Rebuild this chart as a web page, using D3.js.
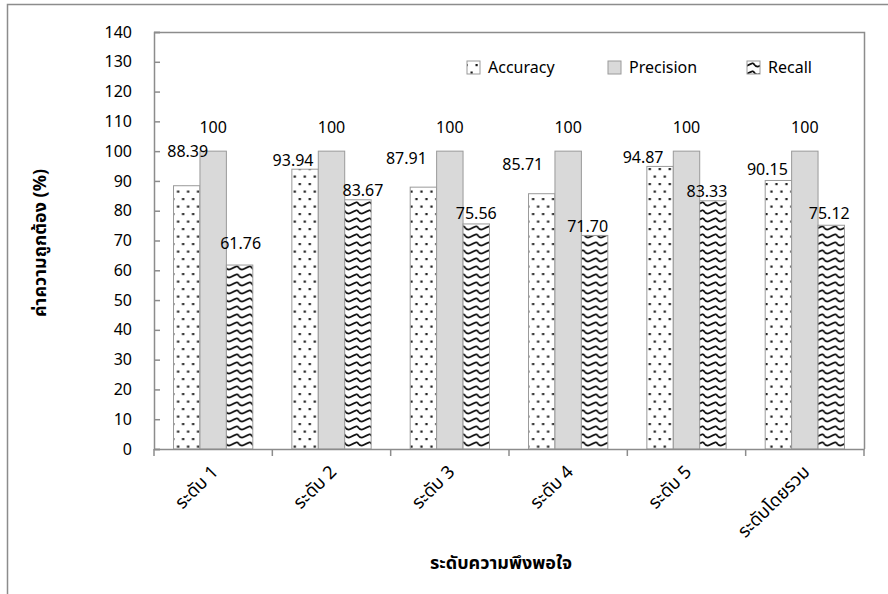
<!DOCTYPE html>
<html>
<head>
<meta charset="utf-8">
<script src="https://cdn.jsdelivr.net/npm/d3@7"></script>
<style>
  html, body { margin: 0; padding: 0; background: #fff; }
  svg { display: block; }
  text { font-family: "Noto Sans", "Noto Sans Thai", sans-serif; fill: #000; }
</style>
</head>
<body>
<svg id="chart" width="888" height="594"></svg>
<script>
// ---- data ----
const categories = ["ระดับ 1", "ระดับ 2", "ระดับ 3", "ระดับ 4", "ระดับ 5", "ระดับโดยรวม"];
const seriesNames = ["Accuracy", "Precision", "Recall"];
const accuracy = [88.39, 93.94, 87.91, 85.71, 94.87, 90.15];
const precision = [100, 100, 100, 100, 100, 100];
const recall = [61.76, 83.67, 75.56, 71.70, 83.33, 75.12];
const yTicks = [0, 10, 20, 30, 40, 50, 60, 70, 80, 90, 100, 110, 120, 130, 140];
const yTitle = "ค่าความถูกต้อง (%)";
const xTitle = "ระดับความพึงพอใจ";

// ---- layout (label nudges, px: [dx, dy] relative to bar centre / bar top) ----
const labelNudge = {
  Accuracy: [[1, -34], [-12, -9], [-17, -29], [-19, -29], [-17, -9], [-11, -11]],
  Precision: [[0, -24], [0, -24], [0, -24], [0, -24], [0, -24], [0, -24]],
  Recall: [[1, -22], [5, -9], [0, -11], [-7, -9], [-6, -9], [-2, -12]]
};

const svg = d3.select("#chart");
const W = 888, H = 594;
const m = { left: 154, right: 864, top: 32, bottom: 449 };
const axisColor = "#8c8c8c";
const fontSize = 16, thaiSize = 18;

// outer frame
svg.append("path").attr("d", `M7.5,${H}V4.5H${W}`).attr("fill", "none").attr("stroke", "#8c8c8c").attr("stroke-width", 1.5);

// scales
const x0 = d3.scaleBand().domain(categories).range([m.left, m.right]).paddingInner(0).paddingOuter(0);
const bw = x0.bandwidth();
const x1 = d3.scaleBand().domain(seriesNames).range([bw * 0.165, bw * 0.835]).padding(0);
const y = d3.scaleLinear().domain([0, 140]).range([m.bottom, m.top]);

// patterns (one origin per bar so the texture lines up inside each bar)
const defs = svg.append("defs");
function dotPattern(id, ox) {
  const p = defs.append("pattern").attr("id", id).attr("patternUnits", "userSpaceOnUse")
    .attr("width", 10).attr("height", 15).attr("x", ox).attr("y", 0);
  p.append("rect").attr("width", 10).attr("height", 15).attr("fill", "#fff");
  [[2.5, 4], [7.5, 11.5]].forEach(([cx, cy]) =>
    p.append("rect").attr("x", cx - 1).attr("y", cy - 1).attr("width", 2.2).attr("height", 2.2).attr("fill", "#1a1a1a"));
}
function wavePattern(id, ox) {
  const p = defs.append("pattern").attr("id", id).attr("patternUnits", "userSpaceOnUse")
    .attr("width", 13).attr("height", 8).attr("x", ox).attr("y", 0);
  p.append("rect").attr("width", 13).attr("height", 8).attr("fill", "#fff");
  p.append("path").attr("d", "M0,2 Q3,7 6.5,5 Q10,3 13,2").attr("fill", "none").attr("stroke", "#111").attr("stroke-width", 1.7);
}
categories.forEach((c, i) => {
  dotPattern("pDots" + i, x0(c) + x1("Accuracy") + 3);
  wavePattern("pWave" + i, x0(c) + x1("Recall"));
});
dotPattern("pDotsL", 467);
wavePattern("pWaveL", 747);

const fillFor = (s, i) => s === "Accuracy" ? `url(#pDots${i})` : s === "Recall" ? `url(#pWave${i})` : "#d9d9d9";
const values = { Accuracy: accuracy, Precision: precision, Recall: recall };

// plot border (top and right)
svg.append("path").attr("d", `M${m.left},${m.top + 0.5}H${m.right + 0.5}V${m.bottom}`)
  .attr("fill", "none").attr("stroke", axisColor).attr("stroke-width", 1.5);

// bars
const groups = svg.append("g").selectAll("g").data(categories).join("g")
  .attr("transform", d => `translate(${x0(d)},0)`);
groups.each(function (cat, i) {
  const g = d3.select(this);
  seriesNames.forEach(s => {
    const v = values[s][i];
    g.append("rect")
      .attr("x", x1(s)).attr("y", y(v))
      .attr("width", x1.bandwidth()).attr("height", y(0) - y(v))
      .attr("fill", fillFor(s, i)).attr("stroke", "#9a9a9a").attr("stroke-width", 1);
  });
});

// value labels
groups.each(function (cat, i) {
  const g = d3.select(this);
  seriesNames.forEach(s => {
    const v = values[s][i];
    const [dx, dy] = labelNudge[s][i];
    g.append("text")
      .attr("x", x1(s) + x1.bandwidth() / 2 + dx)
      .attr("y", y(v) + dy)
      .attr("dy", "0.35em")
      .attr("text-anchor", "middle")
      .attr("font-size", fontSize)
      .text(v === 100 ? "100" : v.toFixed(2));
  });
});

// y axis
const yAxis = svg.append("g").attr("transform", `translate(${m.left},0)`)
  .call(d3.axisLeft(y).tickValues(yTicks).tickSize(-6).tickPadding(22).tickFormat(d3.format("d")));
yAxis.select(".domain").attr("stroke", axisColor).attr("stroke-width", 1.5);
yAxis.selectAll(".tick line").attr("stroke", axisColor).attr("stroke-width", 1.5);
yAxis.selectAll(".tick text").attr("font-size", fontSize).attr("font-family", null);

// x axis
const xAxis = svg.append("g").attr("transform", `translate(0,${m.bottom})`)
  .call(d3.axisBottom(x0).tickSize(0).tickFormat(""));
xAxis.select(".domain").attr("stroke", axisColor).attr("stroke-width", 1.5);
xAxis.selectAll(".tick").remove();
const boundaries = categories.map(c => x0(c)).concat([m.right]);
xAxis.selectAll("line.bt").data(boundaries).join("line").attr("class", "bt")
  .attr("x1", d => d).attr("x2", d => d).attr("y1", 0).attr("y2", 7)
  .attr("stroke", axisColor).attr("stroke-width", 1.5);

// x tick labels (rotated)
svg.append("g").selectAll("text").data(categories).join("text")
  .attr("transform", d => `translate(${x0(d) + bw / 2 + 6},${m.bottom + 24}) rotate(-45)`)
  .attr("text-anchor", "end")
  .attr("font-size", thaiSize)
  .text(d => d);

// axis titles
svg.append("text").attr("transform", `translate(46,243) rotate(-90)`)
  .attr("text-anchor", "middle").attr("font-size", thaiSize).attr("font-weight", "bold").text(yTitle);
svg.append("text").attr("x", 501).attr("y", 569)
  .attr("text-anchor", "middle").attr("font-size", thaiSize).attr("font-weight", "bold").text(xTitle);

// legend
const legendX = [467, 608, 747];
const legendFill = { Accuracy: "url(#pDotsL)", Precision: "#d9d9d9", Recall: "url(#pWaveL)" };
const lg = svg.append("g").selectAll("g").data(seriesNames).join("g")
  .attr("transform", (d, i) => `translate(${legendX[i]},61)`);
lg.append("rect").attr("width", 13).attr("height", 13)
  .attr("fill", d => legendFill[d]).attr("stroke", "#9a9a9a");
lg.append("text").attr("x", 21).attr("y", 6.5).attr("dy", "0.35em").attr("font-size", fontSize).text(d => d);
</script>
</body>
</html>
